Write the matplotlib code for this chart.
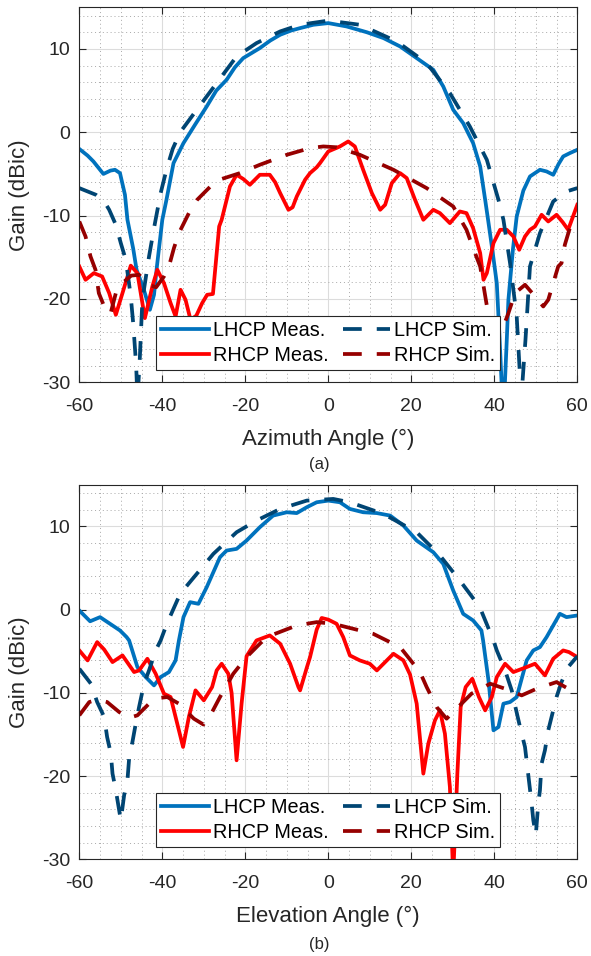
import numpy as np
import matplotlib
matplotlib.use('Agg')
import matplotlib.pyplot as plt
from matplotlib.ticker import MultipleLocator

plt.rcParams['font.family'] = ['Liberation Sans', 'DejaVu Sans']
plt.rcParams['axes.unicode_minus'] = False

# (a) azimuth cut
az_lhcp_meas_deg = [-60, -58, -56.6, -54.2, -52.5, -51.4, -50.2, -49, -48.4, -47, -46.2, -44.5, -43, -42, -41.3,
                    -40, -39, -37.3, -34.9, -32, -29.3, -27, -24.5, -22.5, -20.5, -18.5, -16.5, -14, -11.6, -9,
                    -6.8, -3.6, 0, 4.4, 9.3, 13.3, 17.3, 21.3, 25.3, 27.7, 30.1, 32.5, 34.9, 36.6, 37.8, 38.5,
                    39.5, 40.6, 41.2, 41.8, 42.3, 43, 43.4, 44.5, 45.4, 47, 48.6, 51, 52.6, 54.2, 55.5, 56.6,
                    58.2, 60]
az_lhcp_meas_db = [-2.0, -2.8, -3.5, -5.0, -4.6, -4.5, -4.9, -7.5, -10.5, -14, -16.5, -18.8, -21.3, -19.5, -16.1,
                   -10.5, -8.1, -3.7, -1.3, 1.0, 3.1, 5.0, 6.3, 7.8, 8.9, 9.5, 10.1, 11.0, 11.7, 12.2,
                   12.5, 12.9, 13.1, 12.7, 12.0, 11.3, 10.3, 8.9, 7.5, 5.5, 2.7, 1.1, -1.3, -4.1, -8.1, -10.5,
                   -14, -18.1, -24, -30.5, -33, -25, -20.1, -14, -10.1, -7, -5.3, -4.5, -4.7, -5.1, -3.8, -2.9,
                   -2.5, -2.1]

az_lhcp_sim_deg = [-60, -56, -54, -52.8, -51.2, -50, -48.8, -47.6, -47, -46.3, -46, -45.5, -44.8, -43.2, -42,
                   -40.4, -39, -37.5, -35.7, -31.7, -26.9, -22.1, -17.3, -11.6, -6.8, 0, 7.6, 16.5, 23.7, 29.3,
                   34.1, 38.2, 41, 42.2, 43.8, 45.4, 46.5, 47.5, 48.6, 51, 54.2, 57.4, 60]
az_lhcp_sim_db = [-6.7, -7.5, -8.3, -9.3, -11.1, -13.3, -15.3, -19.7, -23, -28, -32, -28, -20.1, -14.9, -11.5,
                  -7.3, -4.5, -2.0, 0.0, 2.7, 5.9, 9.1, 10.7, 12.1, 12.9, 13.4, 12.9, 10.9, 8.3, 4.7,
                  0.7, -3.3, -8.1, -10.5, -15.7, -22.1, -32, -25, -16.1, -12.1, -8.3, -7.1, -6.7]

az_rhcp_meas_deg = [-60, -58.5, -56.5, -54.5, -52.8, -51.2, -49.6, -47.6, -46, -44.2, -42.4, -41.2, -39.6, -38,
                    -36.8, -35.6, -34.4, -33.2, -31.8, -30.4, -29.2, -27.8, -26.3, -25.7, -24.5, -23.7, -22.1,
                    -20.5, -18.9, -16.5, -14.1, -12.8, -11.6, -9.6, -8.6, -7.6, -5.6, -4.4, -2.8, -2, 0, 2.8,
                    4.8, 6.4, 8.4, 10.5, 12.5, 13.7, 15.3, 17.3, 18.9, 20.9, 22.9, 25.3, 26.9, 29.3, 31.7, 33.3,
                    34.9, 36.6, 37.4, 38.2, 39.8, 41.4, 43, 44.6, 46, 47.4, 48.6, 49.8, 51.4, 53, 55, 56.5,
                    57.8, 60]
az_rhcp_meas_db = [-16.1, -17.7, -16.9, -17.3, -19.3, -21.9, -19.3, -16.0, -16.9, -22.3, -18.5, -16.5, -18.1, -20.5,
                   -22.1, -18.9, -20.1, -22.5, -22.0, -20.5, -19.5, -19.4, -11.3, -10.5, -8.1, -6.5, -5.1,
                   -5.6, -6.3, -5.1, -5.1, -6.0, -7.3, -9.3, -9.0, -7.7, -5.7, -4.9, -4.2, -3.7, -2.3, -1.7,
                   -1.1, -1.7, -4.5, -7.3, -9.3, -8.7, -6.1, -4.9, -5.5, -8.1, -10.5, -9.3, -9.7, -10.9, -9.5, -9.7,
                   -11.5, -14.5, -17.7, -16.9, -13.3, -11.7, -11.7, -12.5, -14.1, -12.5, -11.7, -11.3, -9.9, -10.7, -9.9, -10.8,
                   -11.7, -8.7]

az_rhcp_sim_deg = [-60, -58.5, -57.3, -56.1, -55.3, -54, -52.5, -51.2, -49.6, -47.5, -45.6, -43.2, -41.5, -39.6,
                   -38.4, -37.2, -36, -33.6, -31.6, -28, -26.3, -21.3, -16.5, -10, -4.4, -1.2, 2, 7.6, 15.7,
                   23.7, 30.1, 33.3, 34.9, 36.6, 37.3, 38.4, 40.4, 42.2, 43.4, 45, 47.4, 49.5, 51.8, 53, 55.4,
                   56.2, 57, 58.2, 60]
az_rhcp_sim_db = [-10.7, -12.5, -14.9, -16.5, -19.3, -20.9, -21.8, -19.3, -18.1, -17.2, -17.1, -18.3, -18.6, -17.3,
                  -16.1, -13.9, -12.1, -9.7, -8.1, -6.3, -5.7, -4.9, -3.9, -2.7, -1.9, -1.7, -1.8, -2.7, -4.5,
                  -6.7, -8.9, -11.7, -13.9, -16.1, -18.1, -21.4, -24.3, -23.3, -21.7, -19.3, -18.3, -19.5, -20.9, -20.1, -16.1,
                  -15.7, -13.5, -11.5, -10.3]

# (b) elevation cut
el_lhcp_meas_deg = [-60, -57.4, -55, -52.6, -50.2, -48.6, -48, -46, -44, -42, -40.4, -38.4, -36.8, -36, -34.9,
                    -33.3, -31.3, -29.3, -26.1, -24.5, -22.1, -19.7, -16.5, -13.3, -10, -7.6, -5.2, -2.8, 0,
                    2.8, 5.2, 8.4, 11.7, 14.9, 18.1, 21.3, 25.3, 27.7, 30.1, 32.5, 34.9, 36.9, 37.3, 38.6, 39.8,
                    41, 42.2, 43.8, 45.4, 47.8, 49.4, 51, 52.6, 55.8, 57.4, 60]
el_lhcp_meas_db = [-0.1, -1.4, -0.9, -1.7, -2.5, -3.3, -3.7, -6.9, -8.1, -9.1, -8.1, -7.5, -6.1, -3.7, -0.9,
                   0.9, 0.7, 2.7, 6.3, 7.1, 7.3, 8.3, 9.9, 11.3, 11.7, 11.6, 12.3, 12.9, 13.1,
                   12.9, 12.1, 11.7, 11.6, 11.3, 10.1, 8.3, 6.9, 5.5, 2.3, -0.5, -1.3, -2.5, -3.7, -8.5, -14.5,
                   -14.1, -11.3, -11.1, -10.5, -6.1, -4.9, -4.5, -3.3, -0.5, -0.9, -0.7]

el_lhcp_sim_deg = [-60, -57.2, -55.7, -54, -53.3, -52.4, -52, -51.2, -50.4, -50, -49.2, -48.4, -48, -47.2, -46.4,
                   -45.6, -44.4, -43.2, -41.6, -40.4, -38.9, -35.7, -31.7, -27.7, -22.1, -17.3, -11.6, -5.2, 1.2,
                   5.2, 13.3, 21.3, 26.9, 31.7, 36.5, 39.8, 40.6, 42.6, 44.2, 45, 46.2, 47.4, 48.2, 49, 49.4,
                   50, 50.6, 51, 51.4, 52.2, 53, 53.8, 55, 56.2, 57.8, 60]
el_lhcp_sim_db = [-7.1, -8.9, -11.1, -12.9, -15.3, -17.3, -19.7, -21.7, -24.1, -25.3, -22.3, -20.5, -17.9, -15.9, -13.7,
                  -11.7, -8.9, -7.3, -4.9, -3.7, -1.7, 1.9, 4.3, 6.7, 9.3, 10.7, 12.1, 13.1, 13.3,
                  12.9, 11.5, 9.3, 6.5, 3.5, 0.3, -3.7, -4.9, -7.3, -9.7, -11.5, -14.1, -16.5, -19.9, -23.3, -25.3,
                  -27.1, -23.3, -21.7, -18.5, -16.9, -14.5, -12.9, -10.5, -8.7, -6.9, -5.6]

el_rhcp_meas_deg = [-60, -58, -55.7, -54, -52, -49.6, -46.8, -45.6, -43.6, -41.6, -39.6, -38, -36.4, -35, -33.6,
                    -32, -30, -28, -26.9, -25.7, -24.1, -23.3, -22.1, -20.9, -19.7, -17.3, -14.1, -11.6, -9.2,
                    -7.2, -6.8, -5.2, -4.4, -2.8, -1.6, 0, 2, 3.6, 5.2, 7.6, 10, 11.7, 13.3, 15.7, 18.1, 19.7,
                    21.3, 22.9, 24.1, 25.7, 26.9, 28.1, 29.3, 30.1, 31.1, 31.9, 33.1, 34.7, 36.3, 37.8, 39.4,
                    40.6, 42.6, 44.6, 47.8, 49.8, 52.2, 54.2, 56.6, 58, 60]
el_rhcp_meas_db = [-4.9, -6.1, -3.9, -4.8, -6.3, -5.5, -7.5, -7.3, -5.9, -7.7, -10.1, -10.5, -13.7, -16.5, -12.9,
                   -9.7, -10.9, -9.3, -7.3, -6.5, -7.7, -10, -18.1, -11.3, -5.6, -3.7, -3.1, -4.1, -6.5,
                   -9.3, -9.7, -7.0, -5.7, -2.4, -1.0, -1.2, -1.7, -3.3, -5.5, -6.1, -6.5, -7.3, -6.5, -5.3, -6.1, -7.8,
                   -11.3, -19.7, -16.1, -13.3, -12.1, -14.9, -21.3, -32, -19.7, -11.7, -9.3, -8.3, -10.5, -12.1, -10.5,
                   -8.1, -6.5, -7.5, -6.9, -6.5, -7.9, -5.9, -4.9, -5.1, -5.7]

el_rhcp_sim_deg = [-60, -57.6, -55.5, -53.3, -50.4, -48, -46, -43.2, -40.5, -38.8, -36, -32.4, -30.1, -28, -26.1,
                   -22.9, -19.7, -14.9, -7.6, -2.8, 1.2, 10.8, 17.3, 22.1, 23.7, 26.1, 28.5, 31.7, 34.5, 39,
                   42.6, 46.6, 50.2, 55, 57.8, 60]
el_rhcp_sim_db = [-12.7, -11.1, -10.8, -11.1, -12.3, -13.0, -12.7, -11.3, -10.6, -10.5, -11.3, -13.1, -13.8, -12.3, -10.5,
                  -7.7, -5.7, -3.3, -1.9, -1.5, -1.7, -2.9, -4.5, -7.5, -9.3, -11.7, -13.1, -11.5, -10.1, -8.9,
                  -9.5, -10.3, -9.5, -8.7, -9.5, -10.2]

labels = ['LHCP Meas.', 'LHCP Sim.', 'RHCP Meas.', 'RHCP Sim.']
colors = ['#0072BD', '#004573', '#FF0000', '#960000']

fig = plt.figure(figsize=(5.91, 9.56), dpi=100)
ax1 = fig.add_axes([0.1342, 0.6001, 0.8426, 0.3923])
ax2 = fig.add_axes([0.1342, 0.1011, 0.8426, 0.3918])


def draw_panel(ax, curves, xlabel):
    lw = 2.7
    dash = (5.0, 4.0)
    h1, = ax.plot(curves[0][0], curves[0][1], color=colors[0], lw=lw, solid_joinstyle='round', label=labels[0])
    h3, = ax.plot(curves[2][0], curves[2][1], color=colors[2], lw=lw, solid_joinstyle='round', label=labels[2])
    h2, = ax.plot(curves[1][0], curves[1][1], color=colors[1], lw=lw, ls='--', dashes=dash,
                  dash_joinstyle='round', label=labels[1])
    h4, = ax.plot(curves[3][0], curves[3][1], color=colors[3], lw=lw, ls='--', dashes=dash,
                  dash_joinstyle='round', label=labels[3])

    ax.set_xlim(-60, 60)
    ax.set_ylim(-30, 15)
    ax.set_xticks([-60, -40, -20, 0, 20, 40, 60])
    ax.set_yticks([-30, -20, -10, 0, 10])
    ax.xaxis.set_minor_locator(MultipleLocator(5))
    ax.yaxis.set_minor_locator(MultipleLocator(2))
    ax.grid(which='major', color='#dcdcdc', lw=0.8)
    ax.grid(which='minor', color='#a8a8a8', lw=0.7, ls=(0, (1, 3)))
    ax.set_axisbelow(True)
    ax.tick_params(which='major', direction='in', top=True, right=True, length=5, width=0.8,
                   labelsize=14, colors='#262626')
    ax.tick_params(axis='x', which='major', pad=11)
    ax.tick_params(axis='y', which='major', pad=6.5)
    ax.tick_params(which='minor', length=0)
    for s in ax.spines.values():
        s.set_color('#262626')
        s.set_linewidth(0.8)

    ax.set_xlabel(xlabel, fontsize=16, color='#262626')
    ax.set_ylabel('Gain (dBic)', fontsize=16, color='#262626')
    ax.xaxis.set_label_coords(0.5, -0.125)
    ax.yaxis.set_label_coords(-0.1, 0.5)

    leg = ax.legend(handles=[h1, h3, h2, h4], ncol=2, loc='lower center', bbox_to_anchor=(0.5, 0.033),
                    borderaxespad=0, fontsize=14.3, fancybox=False, framealpha=1, edgecolor='#262626',
                    handlelength=2.4, handletextpad=0.2, columnspacing=0.7, labelspacing=0.3,
                    borderpad=0.25)
    leg.get_frame().set_linewidth(0.8)


draw_panel(ax1, [(az_lhcp_meas_deg, az_lhcp_meas_db), (az_lhcp_sim_deg, az_lhcp_sim_db),
                 (az_rhcp_meas_deg, az_rhcp_meas_db), (az_rhcp_sim_deg, az_rhcp_sim_db)],
           'Azimuth Angle (°)')
draw_panel(ax2, [(el_lhcp_meas_deg, el_lhcp_meas_db), (el_lhcp_sim_deg, el_lhcp_sim_db),
                 (el_rhcp_meas_deg, el_rhcp_meas_db), (el_rhcp_sim_deg, el_rhcp_sim_db)],
           'Elevation Angle (°)')

fig.text(319 / 591, 1 - 465 / 956, '(a)', ha='center', va='center', fontsize=12, color='#262626')
fig.text(319 / 591, 1 - 944 / 956, '(b)', ha='center', va='center', fontsize=12, color='#262626')

fig.savefig('out.png', dpi=100)
